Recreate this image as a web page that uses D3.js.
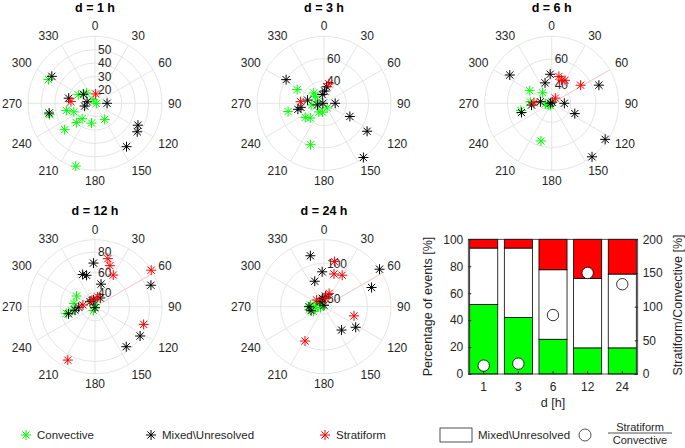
<!DOCTYPE html>
<html><head><meta charset="utf-8">
<script src="https://cdn.jsdelivr.net/npm/d3@7"></script>
<style>body{margin:0;background:#fff}svg{display:block;font-family:"Liberation Sans",Arial,Helvetica,sans-serif}</style>
</head><body><svg id="c" width="685" height="448"></svg>
<script>
// ---------- data ----------
const durations = ["1", "3", "6", "12", "24"];
const panelTitles = ["d = 1 h", "d = 3 h", "d = 6 h", "d = 12 h", "d = 24 h"];
const thetaTicks = [0, 30, 60, 90, 120, 150, 180, 210, 240, 270, 300, 330];
const rLimits = [[10, 60], [20, 80], [25, 78], [26, 92], [39, 133]];
const rTicks = [[20, 30, 40, 50], [40, 60], [40, 60], [40, 60, 80], [50, 100]];

// [theta (deg, clockwise from north), r]
const convective1h = [[297,49],[256,45],[229,40],[256,32],[248,27],[224,30],[220,25],[190,25],[149,24],[197,59],[297,24],[333,13],[100,11],[320,20]];
const mixed1h = [[302,48],[258,45],[90,19],[117,46],[124,48],[144,50],[281,30],[308,21],[281,16],[255,18]];
const stratiform1h = [[4,17],[274,28]];

const convective3h = [[297,47],[257,53],[233,41],[223,38],[309,30],[315,33],[211,29],[190,28],[146,25],[198,59],[284,26],[262,31]];
const mixed3h = [[302,60],[90,30],[117,46],[123,66],[144,80],[257,44],[260,41],[349,28],[3,31],[9,35],[270,21],[281,35],[256,26]];
const stratiform3h = [[14,38],[274,41]];

const convective6h = [[300,45],[319,36],[274,42],[264,30],[212,27],[257,50],[196,56],[243,28]];
const mixed6h = [[304,65],[357,48],[342,42],[69,65],[90,35],[114,45],[124,76],[143,78],[253,50],[265,41],[270,26],[22,26],[278,34]];
const stratiform6h = [[15,47],[30,46],[23,45],[58,52],[35,30],[272,39]];

const convective12h = [[300,47],[279,47],[257,55],[260,49],[203,30],[0,28]];
const mixed12h = [[358,69],[339,60],[345,58],[15,49],[69,85],[123,79],[142,76],[31,36],[347,33],[315,33],[268,42],[255,53],[260,46],[180,27]];
const stratiform12h = [[15,75],[20,69],[30,62],[57,92],[110,77],[207,85],[15,36],[333,33],[278,38]];

const convective24h = [[277,58],[265,51],[259,44],[260,60],[297,50],[315,42],[245,55]];
const mixed24h = [[345,113],[357,88],[340,77],[56,133],[68,111],[143,80],[123,92],[9,54],[349,51],[270,60],[253,58],[0,41],[321,48]];
const stratiform24h = [[13,104],[17,87],[30,90],[107,83],[209,94],[21,59],[312,53],[11,51]];

const pctConvective = [51.6, 41.9, 25.8, 19.4, 19.4];
const pctMixed = [41.9, 51.6, 51.6, 51.6, 54.8];
const pctStratiform = [6.5, 6.5, 22.6, 29.0, 25.8];
const ratioStratConv = [12.5, 15.4, 87.5, 150, 133.3];
const leftTicks = [0, 20, 40, 60, 80, 100];
const rightTicks = [0, 50, 100, 150, 200];

// ---------- styles ----------
const GREEN = "#00ff00", RED = "#ff0000", BLACK = "#000000", GRID = "#dedede", TXT = "#262626";
const svg = d3.select("#c");
const R = 67;
const panels = [
  {cx: 95, cy: 103.3, conv: convective1h, mix: mixed1h, str: stratiform1h},
  {cx: 324, cy: 103.3, conv: convective3h, mix: mixed3h, str: stratiform3h},
  {cx: 551.7, cy: 103.3, conv: convective6h, mix: mixed6h, str: stratiform6h},
  {cx: 95, cy: 306.7, conv: convective12h, mix: mixed12h, str: stratiform12h},
  {cx: 324, cy: 306.7, conv: convective24h, mix: mixed24h, str: stratiform24h}
];
const starPath = "M-5,0L5,0M0,-5L0,5M-3.6,-3.6L3.6,3.6M-3.6,3.6L3.6,-3.6";

panels.forEach((p, i) => {
  const g = svg.append("g").attr("transform", `translate(${p.cx},${p.cy})`);
  const a = d3.scaleLinear().domain([0, 360]).range([0, 2 * Math.PI]);
  const r = d3.scaleLinear().domain(rLimits[i]).range([0, R]);
  // rings
  g.selectAll("circle.ring").data(rTicks[i].concat([rLimits[i][1]])).join("circle")
    .attr("r", d => r(d)).attr("fill", "none").attr("stroke", GRID).attr("stroke-width", 0.8);
  // spokes
  g.selectAll("line.spoke").data(thetaTicks).join("line")
    .attr("x1", 0).attr("y1", 0)
    .attr("x2", d => d3.pointRadial(a(d), R)[0]).attr("y2", d => d3.pointRadial(a(d), R)[1])
    .attr("stroke", GRID).attr("stroke-width", 0.8);
  if (i >= 2) {
    g.append("line").attr("x1", 0).attr("y1", 0)
      .attr("x2", d3.pointRadial(a(60), R)[0]).attr("y2", d3.pointRadial(a(60), R)[1])
      .attr("stroke", "#f6c4c4").attr("stroke-width", 0.8);
  }
  // theta labels
  g.selectAll("text.th").data(thetaTicks).join("text")
    .attr("x", d => d3.pointRadial(a(d), 73)[0]).attr("y", d => d3.pointRadial(a(d), 73)[1])
    .attr("text-anchor", d => { const s = Math.sin(a(d)); return s > 0.01 ? "start" : s < -0.01 ? "end" : "middle"; })
    .attr("dy", d => { const c = -Math.cos(a(d)); return c < -0.01 ? "0em" : c > 0.01 ? "0.72em" : "0.36em"; })
    .attr("font-size", 12).attr("fill", TXT).text(d => d);
  // r labels
  g.selectAll("text.rl").data(rTicks[i]).join("text")
    .attr("x", 3).attr("y", d => -r(d)).attr("dy", "0.36em")
    .attr("font-size", 12).attr("fill", TXT).text(d => d);
  // title
  g.append("text").attr("x", 0).attr("y", -96).attr("dy", "0.36em").attr("text-anchor", "middle")
    .attr("font-size", 12.5).attr("font-weight", "bold").attr("fill", "#000").text(panelTitles[i]);
  // points
  const draw = (data, col) => g.append("g").selectAll("path").data(data).join("path")
    .attr("d", starPath)
    .attr("transform", d => { const q = d3.pointRadial(a(d[0]), r(d[1])); return `translate(${q[0]},${q[1]})`; })
    .attr("fill", "none").attr("stroke", col).attr("stroke-width", 1);
  draw(p.conv, GREEN);
  draw(p.mix, BLACK);
  draw(p.str, RED);
});

// ---------- bar chart ----------
const bx0 = 468.3, bx1 = 637.7, by0 = 374, by1 = 239.3;
const x = d3.scaleBand().domain(durations).range([bx0, bx1]).paddingInner(0.19).paddingOuter(0.04);
const y = d3.scaleLinear().domain([0, 100]).range([by0, by1]);
const y2 = d3.scaleLinear().domain([0, 200]).range([by0, by1]);
const rows = durations.map((d, k) => ({d, conv: pctConvective[k], mix: pctMixed[k], str: pctStratiform[k]}));
const stack = d3.stack().keys(["conv", "mix", "str"])(rows);
const fills = {conv: GREEN, mix: "#ffffff", str: RED};
const bg = svg.append("g");
stack.forEach(layer => {
  bg.append("g").selectAll("rect").data(layer).join("rect")
    .attr("x", d => x(d.data.d)).attr("width", x.bandwidth())
    .attr("y", d => y(d[1])).attr("height", d => y(d[0]) - y(d[1]))
    .attr("fill", fills[layer.key]).attr("stroke", "#000").attr("stroke-width", 0.8);
});
bg.append("g").selectAll("circle").data(ratioStratConv).join("circle")
  .attr("cx", (d, k) => x(durations[k]) + x.bandwidth() / 2).attr("cy", d => y2(d)).attr("r", 5.7)
  .attr("fill", "#fff").attr("stroke", "#000").attr("stroke-width", 0.8);
// box
bg.append("rect").attr("x", bx0).attr("y", by1).attr("width", bx1 - bx0).attr("height", by0 - by1)
  .attr("fill", "none").attr("stroke", "#262626").attr("stroke-width", 0.8);
const axL = svg.append("g").attr("transform", `translate(${bx0},0)`)
  .call(d3.axisLeft(y).tickValues(leftTicks).tickSize(-3).tickPadding(5));
const axR = svg.append("g").attr("transform", `translate(${bx1},0)`)
  .call(d3.axisRight(y2).tickValues(rightTicks).tickSize(-3).tickPadding(5));
const axB = svg.append("g").attr("transform", `translate(0,${by0})`)
  .call(d3.axisBottom(x).tickSize(-3).tickPadding(8));
[axL, axR, axB].forEach(ax => {
  ax.select(".domain").remove();
  ax.selectAll("line").attr("stroke", "#262626");
  ax.selectAll("text").attr("font-size", 12).attr("fill", TXT).attr("font-family", null);
});
svg.append("text").attr("transform", "translate(427,306.5) rotate(-90)").attr("text-anchor", "middle")
  .attr("dy", "0.36em").attr("font-size", 12.5).attr("fill", TXT).text("Percentage of events [%]");
svg.append("text").attr("transform", "translate(677,305) rotate(-90)").attr("text-anchor", "middle")
  .attr("dy", "0.36em").attr("font-size", 12.5).attr("fill", TXT).text("Stratiform/Convective [%]");
svg.append("text").attr("x", 553).attr("y", 402).attr("dy", "0.36em").attr("text-anchor", "middle")
  .attr("font-size", 12.5).attr("fill", TXT).text("d [h]");

// ---------- legend ----------
const ly = 435;
const legendStars = [
  {x: 26, col: GREEN, label: "Convective"},
  {x: 151, col: BLACK, label: "Mixed\\Unresolved"},
  {x: 325, col: RED, label: "Stratiform"}
];
const lg = svg.append("g");
legendStars.forEach(s => {
  lg.append("path").attr("d", starPath).attr("transform", `translate(${s.x},${ly})`)
    .attr("fill", "none").attr("stroke", s.col).attr("stroke-width", 1);
  lg.append("text").attr("x", s.x + 11).attr("y", ly).attr("dy", "0.36em")
    .attr("font-size", 11.5).attr("fill", TXT).text(s.label);
});
lg.append("rect").attr("x", 440).attr("y", 428).attr("width", 32).attr("height", 14)
  .attr("fill", "#fff").attr("stroke", "#262626").attr("stroke-width", 0.8);
lg.append("text").attr("x", 478).attr("y", ly).attr("dy", "0.36em").attr("font-size", 11.5).attr("fill", TXT).text("Mixed\\Unresolved");
lg.append("circle").attr("cx", 585).attr("cy", ly).attr("r", 6).attr("fill", "#fff").attr("stroke", "#262626").attr("stroke-width", 0.8);
lg.append("line").attr("x1", 608).attr("x2", 672).attr("y1", 433).attr("y2", 433).attr("stroke", "#262626").attr("stroke-width", 0.8);
lg.append("text").attr("x", 640).attr("y", 431).attr("text-anchor", "middle").attr("font-size", 11).attr("fill", TXT).text("Stratiform");
lg.append("text").attr("x", 640).attr("y", 436).attr("dy", "0.72em").attr("text-anchor", "middle").attr("font-size", 11).attr("fill", TXT).text("Convective");
</script></body></html>
